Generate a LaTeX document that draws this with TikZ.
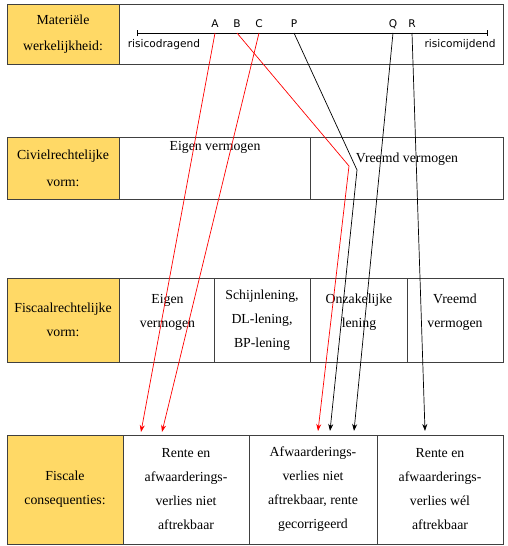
\documentclass[tikz,border=0pt]{standalone}
\usepackage{fontspec}
\setmainfont{Liberation Serif}
\newfontfamily\puntfont{DejaVu Sans}
\usetikzlibrary{arrows.meta}
\definecolor{kopgeel}{RGB}{255,217,102}
\definecolor{rand}{RGB}{64,64,64}
\newcommand\tekstfont{\fontsize{13.8}{24}\selectfont}
\tikzset{
kopcel/.style={
  draw=rand,
  line width=0.9pt,
  fill=kopgeel,
  align=center,
  inner sep=0pt,
  font=\tekstfont
  },
cel/.style={
  draw=rand,
  line width=0.9pt,
  fill=white,
  align=center,
  inner sep=0pt,
  font=\tekstfont
  },
tekst/.style={align=center,inner sep=0pt,font=\tekstfont},
punt/.style={inner sep=1pt,font=\puntfont\fontsize{10.6}{12}\selectfont},
pijl/.style={-{Stealth[length=7pt,width=5pt]},line width=0.7pt}
}

\begin{document}
\begin{tikzpicture}[x=1pt,y=-1pt]
            \useasboundingbox (0,0) rectangle (507,546);
            % materiele werkelijkheid
            \node[kopcel,minimum width=112pt,minimum height=60pt] (mat) at (63,34) {Materiële\\[2pt]werkelijkheid:};
            \node[cel,minimum width=384pt,minimum height=60pt] (schaal) at (311,34) {};
            \coordinate (ls) at (137,33);
            \coordinate (rs) at (488,33);
            \draw[{Bar[width=6pt]}-{Bar[width=6pt]},line width=0.6pt] (ls) -- (rs);
            \node[punt] (A) at (215,24) {A};
            \node[punt] (B) at (237,24) {B};
            \node[punt] (C) at (259,24) {C};
            \node[punt] (P) at (294,24) {P};
            \node[punt] (Q) at (393,24) {Q};
            \node[punt] (R) at (412,24) {R};
            \node[punt] (rd) at (164,45) {risicodragend};
            \node[punt] (rm) at (460,45) {risicomijdend};
            % civielrechtelijke vorm
            \node[kopcel,minimum width=112pt,minimum height=62pt] (civ) at (63,168) {Civielrechtelijke\\[3pt]vorm:};
            \node[cel,minimum width=191pt,minimum height=62pt] (cev) at (214.5,168) {};
            \node[cel,minimum width=193pt,minimum height=62pt] (cvv) at (406.5,168) {};
            \node[tekst] (tcev) at (215,147) {Eigen vermogen};
            \node[tekst] (tcvv) at (407,159) {Vreemd vermogen};
            % fiscaalrechtelijke vorm
            \node[kopcel,minimum width=112pt,minimum height=84pt] (fis) at (63,320) {Fiscaalrechtelijke\\vorm:};
            \node[cel,minimum width=95pt,minimum height=84pt] (fev) at (166.5,320) {};
            \node[cel,minimum width=96pt,minimum height=84pt] (fsl) at (262,320) {Schijnlening,\\DL-lening,\\BP-lening};
            \node[cel,minimum width=97pt,minimum height=84pt] (fol) at (358.5,320) {};
            \node[cel,minimum width=96pt,minimum height=84pt] (fvv) at (455,320) {};
            \node[tekst] (tfev) at (167.5,312) {Eigen\\vermogen};
            \node[tekst] (tfol) at (359,312.5) {Onzakelijke\\lening};
            \node[tekst] (tfvv) at (455,312) {Vreemd\\vermogen};
            % fiscale consequenties
            \node[kopcel,minimum width=116pt,minimum height=109pt] (gev) at (65,489.5) {Fiscale\\consequenties:};
            \node[cel,minimum width=126pt,minimum height=109pt] (gna) at (186,489.5) {Rente en\\afwaarderings-\\verlies niet\\aftrekbaar};
            \node[cel,minimum width=128pt,minimum height=109pt] (ggc) at (313,489.5) {Afwaarderings-\\verlies niet\\aftrekbaar, rente\\gecorrigeerd};
            \node[cel,minimum width=126pt,minimum height=109pt] (gwa) at (440,489.5) {Rente en\\afwaarderings-\\verlies wél\\aftrekbaar};
            % pijlen
            \coordinate (eA) at (141,432);
            \coordinate (kB) at (349,166);
            \coordinate (eB) at (318,431);
            \coordinate (eC) at (162,432);
            \coordinate (kP) at (357,170);
            \coordinate (eP) at (330,431);
            \coordinate (eQ) at (354,431);
            \coordinate (eR) at (425,431);
            \draw[pijl,red] (A |- ls) -- (eA);
            \draw[pijl,red] (B |- ls) -- (kB) -- (eB);
            \draw[pijl,red] (C |- ls) -- (eC);
            \draw[pijl] (P |- ls) -- (kP) -- (eP);
            \draw[pijl] (Q |- ls) -- (eQ);
            \draw[pijl] (R |- ls) -- (eR);
        \end{tikzpicture}
\end{document}
